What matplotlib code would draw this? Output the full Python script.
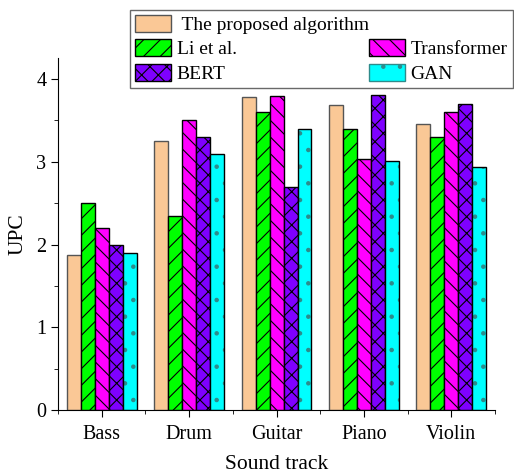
import numpy as np
import matplotlib.pyplot as plt
from matplotlib.patches import Patch
from matplotlib.ticker import MultipleLocator

plt.rcParams['font.family'] = ['Liberation Serif', 'DejaVu Serif']
plt.rcParams['hatch.linewidth'] = 0.8

tracks = ['Bass', 'Drum', 'Guitar', 'Piano', 'Violin']
series = ['The proposed algorithm', 'Li et al.', 'Transformer', 'BERT', 'GAN']
proposed = [1.87, 3.25, 3.78, 3.69, 3.46]
li = [2.50, 2.35, 3.60, 3.40, 3.30]
transformer = [2.20, 3.50, 3.80, 3.03, 3.60]
bert = [2.00, 3.30, 2.69, 3.81, 3.70]
gan = [1.90, 3.10, 3.40, 3.01, 2.94]

colors = ['#FAC896', '#00FF00', '#FF00FF', '#7F00FF', '#00FFFF']
hatches = ['', '//', '\\\\', 'xx', '.']
hatch_cols = ['#555555', 'black', 'black', 'black', '#2E8B8B']
edges = ['#555555', 'black', 'black', 'black', 'black']

fig = plt.figure(figsize=(5.14, 4.75), dpi=100)
ax = fig.add_axes([0.113, 0.137, 0.850, 0.740])

x = np.arange(len(tracks))
w = 0.16
handles = []
for i, vals in enumerate([proposed, li, transformer, bert, gan]):
    pos = x + (i - 2) * w
    # hatch drawn in its own colour, outline drawn on top
    ax.bar(pos, vals, w, color=colors[i], edgecolor=hatch_cols[i],
           hatch=hatches[i], linewidth=0)
    ax.bar(pos, vals, w, color='none', edgecolor=edges[i], linewidth=1.0)
    handles.append(Patch(facecolor=colors[i], edgecolor=hatch_cols[i], hatch=hatches[i],
                         linewidth=1.0, label=series[i]))

ax.set_xlim(-0.5, 4.5)
ax.set_ylim(0, 4.25)
ax.set_xticks(x)
ax.set_xticklabels(tracks)
ax.xaxis.set_minor_locator(MultipleLocator(1, offset=0.5))
ax.yaxis.set_major_locator(MultipleLocator(1))
ax.yaxis.set_minor_locator(MultipleLocator(0.5))
ax.tick_params(which='major', direction='out', length=5, labelsize=14.5)
ax.tick_params(axis='x', which='major', pad=6)
ax.tick_params(which='minor', direction='out', length=3)
ax.spines['top'].set_visible(False)
ax.spines['right'].set_visible(False)
ax.set_xlabel('Sound track', fontsize=15.5, labelpad=8)
ax.set_ylabel('UPC', fontsize=15.5, labelpad=6)

blank = Patch(visible=False, label=' ')
leg_handles = [handles[0], handles[1], handles[3], blank, handles[2], handles[4]]
leg_labels = [' The proposed algorithm', 'Li et al.', 'BERT', ' ', 'Transformer', 'GAN']
leg = fig.legend(handles=leg_handles, labels=leg_labels,
                 ncol=2, loc='upper left', bbox_to_anchor=(0.253, 0.979),
                 fontsize=14, frameon=True, fancybox=False, edgecolor='#444444',
                 handlelength=1.85, handleheight=0.95, handletextpad=0.3,
                 columnspacing=0.0, labelspacing=0.28, borderpad=0.25,
                 borderaxespad=0)
leg.get_frame().set_linewidth(1.0)

fig.savefig('out.png', dpi=100)
